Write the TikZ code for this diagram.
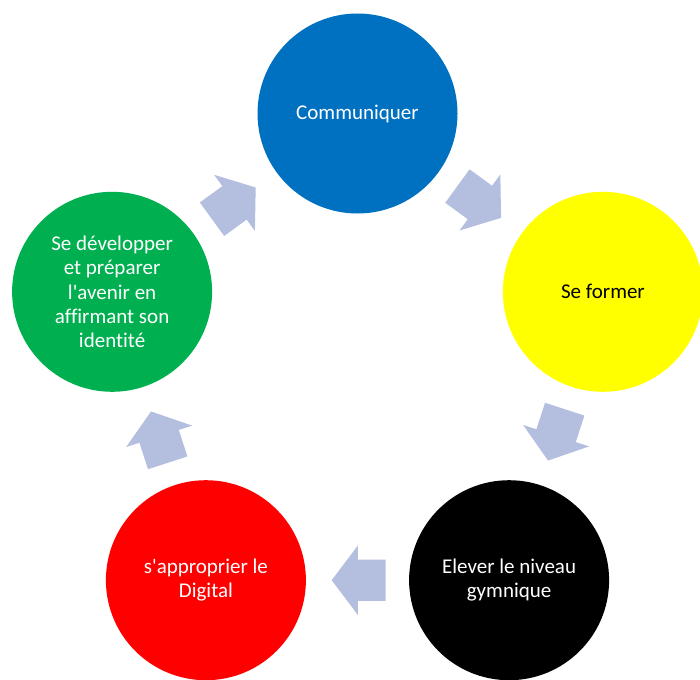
\documentclass[tikz,border=0pt]{standalone}
\usepackage{fontspec}
\setmainfont{Carlito}[Ligatures={NoCommon,NoContextual,NoRequired}]
\usepackage{tikz}
\usetikzlibrary{positioning,shapes.arrows,calc}
\definecolor{stepblue}{RGB}{0,112,192}
\definecolor{stepyellow}{RGB}{255,255,0}
\definecolor{stepgreen}{RGB}{0,176,80}
\definecolor{stepred}{RGB}{255,0,0}
\definecolor{arrowlilac}{RGB}{180,191,224}
\tikzset{
	bubble/.style={
		circle,
		minimum size=200pt,
		inner sep=0pt,
		align=center,
		text=white,
		font=\fontsize{21}{24.4}\selectfont
	},
	flow/.style={
		single arrow,
		fill=arrowlilac,
		inner xsep=0pt,
		inner ysep=20.5pt,
		minimum height=54pt,
		single arrow head extend=14pt,
		single arrow tip angle=106
	}
}
\begin{document}
\begin{tikzpicture}[x=1pt, y=-1pt]
			\useasboundingbox (0,0) rectangle (700,679);
			\node [bubble, fill=stepblue] (comm) at (357.5,113.5) {Communiquer};
			\node [bubble, fill=stepyellow, text=black] (former) at (602.9,291.8) {Se former};
			\node [bubble, fill=black] (niveau) at (509.1,580.2) {Elever le niveau\\gymnique};
			\node [bubble, fill=stepred] (digital) at (205.9,580.2) {s\textquotesingle approprier le\\Digital};
			\node [bubble, fill=stepgreen] (avenir) at (112.1,291.8) {Se développer\\et préparer\\l\textquotesingle avenir en\\affirmant son\\identité};
			\node [flow, rotate=36] (a1) at ($($(avenir)!0.5!(comm)$)!9pt!(avenir)$) {};
			\node [flow, rotate=-36] (a2) at ($($(comm)!0.5!(former)$)!9pt!(comm)$) {};
			\node [flow, rotate=-108] (a3) at ($($(former)!0.5!(niveau)$)!9pt!(former)$) {};
			\node [flow, rotate=180] (a4) at ($($(niveau)!0.5!(digital)$)!9pt!(niveau)$) {};
			\node [flow, rotate=108] (a5) at ($($(digital)!0.5!(avenir)$)!9pt!(digital)$) {};
		\end{tikzpicture}
\end{document}
